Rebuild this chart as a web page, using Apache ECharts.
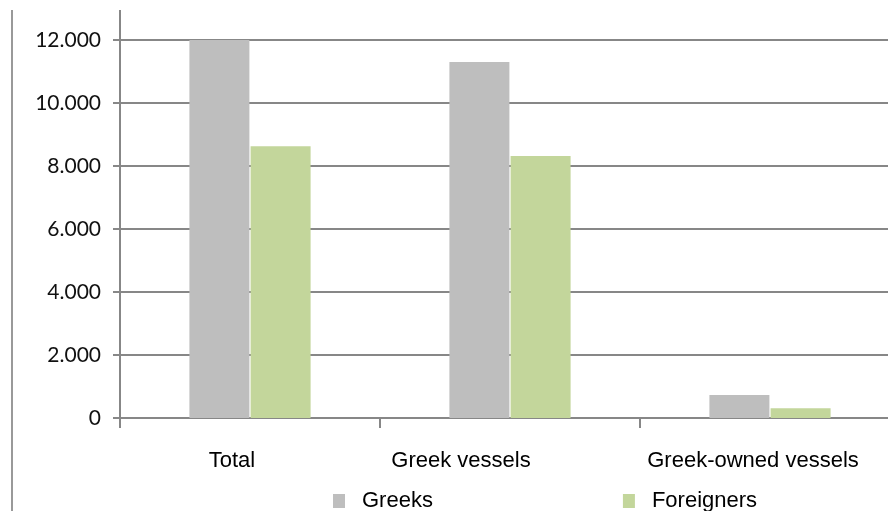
<!DOCTYPE html>
<html>
<head>
    <meta charset="utf-8">
    <title>Greeks and foreigners</title>
    <script src="https://cdn.jsdelivr.net/npm/echarts@6/dist/echarts.min.js"></script>
    <style>
        html, body {margin:0;padding:0;background:#fff}
        #chart {width:888px;height:511px}
    </style>
</head>
<body>
<div id="chart"></div>
<script>
    // data
    var categories = ['Total', 'Greek vessels', 'Greek-owned vessels'];
    var greeks = [12000, 11300, 730];
    var foreigners = [8630, 8320, 310];
    var yTicks = [0, 2000, 4000, 6000, 8000, 10000, 12000];

    var lineGray = '#878787';
    // the original labels sit a little left of the category centre
    var labelPadRight = [36, 98, 34];

    var chart = echarts.init(document.getElementById('chart'));
    var option = {
        animation: false,
        grid: {left: 120, width: 780, top: 40, bottom: 93, outerBoundsMode: 'none', containLabel: false},
        legend: {
            data: ['Greeks', 'Foreigners'],
            left: 328,
            top: 485,
            itemWidth: 12,
            itemHeight: 14,
            itemGap: 190,
            icon: 'rect',
            textStyle: {fontFamily: 'Liberation Sans', fontSize: 22, color: '#000', padding: [4, 0, 0, 12]}
        },
        xAxis: {
            type: 'category',
            data: categories.map(function (c, i) {
                return {value: c, textStyle: {padding: [0, labelPadRight[i], 0, 0]}};
            }),
            axisLine: {lineStyle: {color: lineGray, width: 2}},
            axisTick: {show: true, interval: 0, length: 10, lineStyle: {color: lineGray, width: 2}},
            axisLabel: {interval: 0, hideOverlap: false, margin: 32, fontFamily: 'Liberation Sans', fontSize: 22, color: '#000'}
        },
        yAxis: {
            type: 'value',
            min: yTicks[0],
            max: yTicks[yTicks.length - 1],
            interval: 2000,
            axisLine: {show: true, lineStyle: {color: lineGray, width: 2}},
            axisTick: {show: true, length: 7, lineStyle: {color: lineGray, width: 2}},
            splitLine: {lineStyle: {color: lineGray, width: 2}},
            axisLabel: {
                margin: 19,
                fontFamily: 'Lato',
                fontSize: 21,
                color: '#111',
                formatter: function (v) {
                    return String(v).replace(/\B(?=(\d{3})+(?!\d))/g, '.');
                }
            }
        },
        graphic: [
            {type: 'line', shape: {x1: 120, y1: 10, x2: 120, y2: 40}, style: {stroke: lineGray, lineWidth: 2}},
            {type: 'line', shape: {x1: 12, y1: 10, x2: 12, y2: 511}, style: {stroke: '#999', lineWidth: 2}}
        ],
        series: [
            {
                name: 'Greeks',
                type: 'bar',
                data: greeks,
                barWidth: 60,
                barGap: '2%',
                itemStyle: {color: '#bebebe'}
            },
            {
                name: 'Foreigners',
                type: 'bar',
                data: foreigners,
                barWidth: 60,
                barGap: '2%',
                itemStyle: {color: '#c3d69b'}
            }
        ]
    };
    chart.setOption(option);
</script>
</body>
</html>
